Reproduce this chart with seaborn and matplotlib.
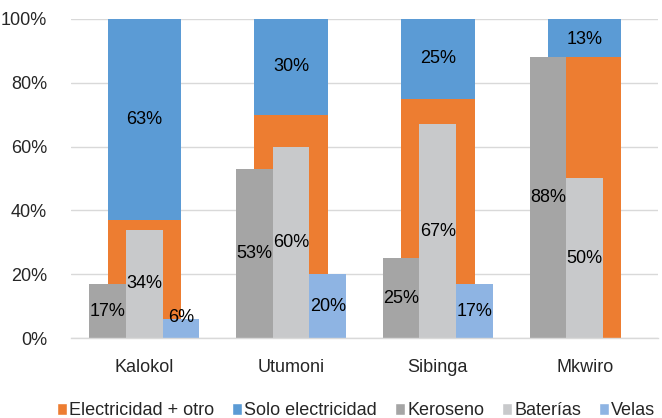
import numpy as np
import pandas as pd
import seaborn as sns
from matplotlib import pyplot as plt
from matplotlib.patches import Patch
from matplotlib.ticker import PercentFormatter

lugares = ["Kalokol", "Utumoni", "Sibinga", "Mkwiro"]
elec_otro = [37, 70, 75, 88]
solo_elec = [63, 30, 25, 13]
keroseno = [17, 53, 25, 88]
baterias = [34, 60, 67, 50]
velas = [6, 20, 17, 0]

fuentes = ["Keroseno", "Baterías", "Velas"]
colores = {"Electricidad + otro": "#ED7D31", "Solo electricidad": "#5B9BD5",
           "Keroseno": "#A5A5A5", "Baterías": "#C8C9CB", "Velas": "#8EB4E3"}

sns.set_theme(style="white")
plt.rcParams["font.family"] = ["Liberation Sans", "DejaVu Sans"]
fs = 13

wide = pd.DataFrame({"lugar": lugares, "otro": elec_otro, "solo": solo_elec})
wide["total"] = np.minimum(wide["otro"] + wide["solo"], 100)
narrow = pd.DataFrame({"lugar": lugares * 3,
                       "fuente": np.repeat(fuentes, len(lugares)),
                       "valor": keroseno + baterias + velas})

fig, ax = plt.subplots(figsize=(6.62, 4.18), dpi=100)
fig.subplots_adjust(left=0.107, right=0.994, top=0.955, bottom=0.191)

ax.yaxis.grid(True, color="#D9D9D9", linewidth=1)
ax.set_axisbelow(True)

# stacked wide bar: total in blue, orange drawn over the lower part
sns.barplot(data=wide, x="lugar", y="total", color=colores["Solo electricidad"],
            width=0.5, saturation=1, linewidth=0, ax=ax)
sns.barplot(data=wide, x="lugar", y="otro", color=colores["Electricidad + otro"],
            width=0.5, saturation=1, linewidth=0, ax=ax)
sns.barplot(data=narrow, x="lugar", y="valor", hue="fuente", hue_order=fuentes,
            palette=[colores[f] for f in fuentes], width=0.75, saturation=1,
            linewidth=0, legend=False, ax=ax)

for i, (o, s) in enumerate(zip(elec_otro, solo_elec)):
    ax.text(i, min(o + s / 2, 100 - s / 2), f"{s}%", ha="center", va="center",
            fontsize=fs, color="black")

for j, vals in enumerate([keroseno, baterias, velas]):
    for i, v in enumerate(vals):
        if v > 0:
            ax.text(i + (j - 1) * 0.25, max(v / 2, 6.5), f"{v}%", ha="center",
                    va="center", fontsize=fs, color="black")

ax.set_ylim(0, 100)
ax.set_xlim(-0.5, len(lugares) - 0.5)
ax.yaxis.set_major_formatter(PercentFormatter(decimals=0))
ax.set_yticks(range(0, 101, 20))
ax.set_xlabel("")
ax.set_ylabel("")
ax.tick_params(axis="y", labelsize=fs, labelcolor="#262626", left=False, pad=11)
ax.tick_params(axis="x", labelsize=fs, labelcolor="#262626", bottom=False, pad=9)
for side in ["top", "right", "left"]:
    ax.spines[side].set_visible(False)
ax.spines["bottom"].set_color("#D9D9D9")
ax.spines["bottom"].set_linewidth(1)

handles = [Patch(facecolor=c, label=k) for k, c in colores.items()]
fig.legend(handles=handles, loc="lower center", bbox_to_anchor=(0.538, -0.042),
           ncol=5, frameon=False, fontsize=fs, handlelength=0.55, handleheight=0.7,
           handletextpad=0.12, columnspacing=1.0)

fig.savefig("out.png", dpi=100)
